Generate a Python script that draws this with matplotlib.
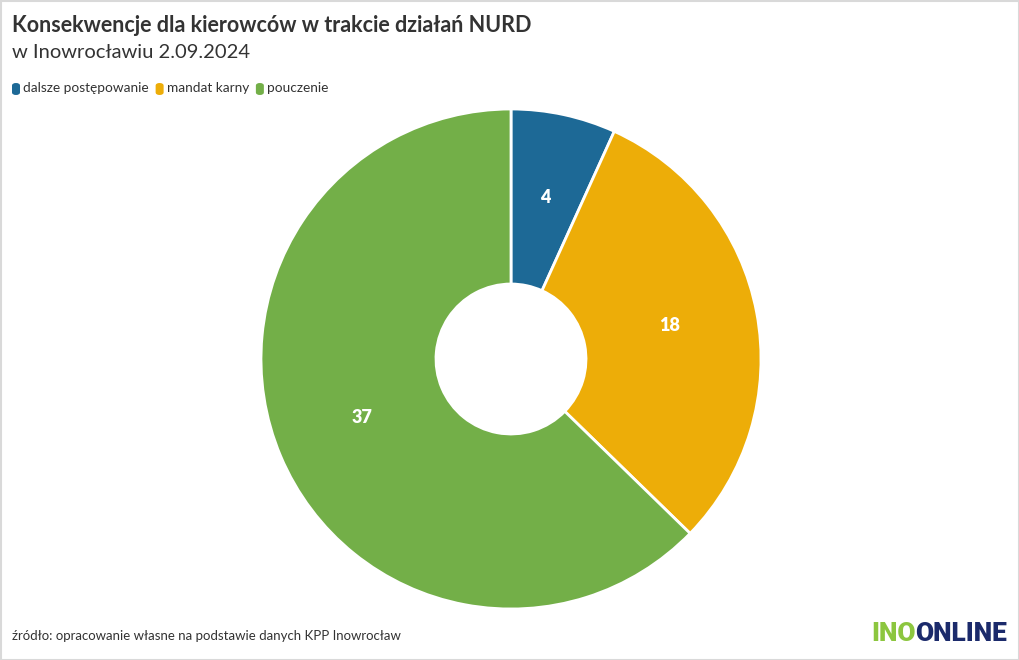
import matplotlib
matplotlib.use("Agg")
import matplotlib.pyplot as plt
from matplotlib.patches import Rectangle, FancyBboxPatch

categories = ["dalsze postępowanie", "mandat karny", "pouczenie"]
values = [4, 18, 37]
colors = ["#1d6996", "#edad08", "#73af48"]

title = "Konsekwencje dla kierowców w trakcie działań NURD"
subtitle = "w Inowrocławiu 2.09.2024"
source = "źródło: opracowanie własne na podstawie danych KPP Inowrocław"

plt.rcParams['font.family'] = ['Lato', 'DejaVu Sans']

W, H = 1020, 660
fig = plt.figure(figsize=(W / 100, H / 100), dpi=100)
fig.patch.set_facecolor("white")

# border
fig.add_artist(Rectangle((0.5 / W, 0.5 / H), 1 - 1.5 / W, 1 - 1.5 / H, transform=fig.transFigure,
                         fill=False, edgecolor="#d9d9d9", linewidth=1.5))

cx, cy, r = 511, 359, 250
ax = fig.add_axes([(cx - r) / W, (H - cy - r) / H, 2 * r / W, 2 * r / H])

wedges, texts = ax.pie(values, colors=colors, startangle=90, counterclock=False, radius=1,
                       wedgeprops=dict(width=0.7, edgecolor="white", linewidth=2),
                       labels=[str(v) for v in values], labeldistance=0.645,
                       textprops=dict(color="white", fontsize=13, fontweight="heavy"))
for t in texts:
    t.set_horizontalalignment("center")
    t.set_verticalalignment("center")
    px, py = t.get_position()
    t.set_position((px, py + 0.016))
ax.set_xlim(-1, 1)
ax.set_ylim(-1, 1)
ax.set_aspect("equal")
ax.axis("off")

fig.text(12 / W, 1 - 26 / H, title, fontsize=15.5, fontweight="bold", color="#333333", va="center", ha="left")
fig.text(12 / W, 1 - 52 / H, subtitle, fontsize=14.5, color="#333333", va="center", ha="left")

# legend
x = 12
for c, lab in zip(colors, categories):
    fig.add_artist(FancyBboxPatch(((x) / W, (H - 95) / H), 8 / W, 12 / H,
                                  boxstyle="round,pad=0,rounding_size=0.004",
                                  transform=fig.transFigure, facecolor=c, edgecolor="none"))
    t = fig.text((x + 11) / W, 1 - 88 / H, lab, fontsize=9.8, color="#333333", va="center", ha="left")
    fig.canvas.draw()
    bb = t.get_window_extent()
    x = bb.x1 + 7

fig.text(12 / W, 1 - 636 / H, source, fontsize=9.5, color="#333333", va="center", ha="left")

# logo
t1 = fig.text(871 / W, 1 - 634 / H, "INO", fontsize=19, fontweight="black", color="#8cc63f",
              va="center", ha="left", family=["Roboto", "DejaVu Sans"])
fig.canvas.draw()
bb = t1.get_window_extent()
fig.text(bb.x1 / W, 1 - 634 / H, "ONLINE", fontsize=19, fontweight="black", color="#1b2a6b",
         va="center", ha="left", family=["Roboto", "DejaVu Sans"])

fig.savefig("out.png", dpi=100, facecolor="white")
